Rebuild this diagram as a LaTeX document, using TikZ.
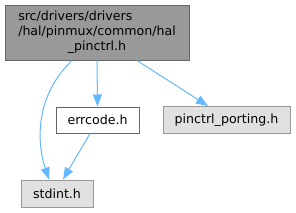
\documentclass[tikz,border=0pt]{standalone}
\usepackage{fontspec}
\setmainfont{DejaVu Sans}
\usetikzlibrary{arrows.meta}
\definecolor{edgeblue}{HTML}{63B8FF}
\definecolor{nodegray}{HTML}{999999}
\definecolor{nodelight}{HTML}{E0E0E0}
\definecolor{borderdark}{HTML}{666666}
\tikzset{
  filebox/.style={draw=borderdark, line width=1pt, inner sep=0pt, font=\fontsize{12.6}{15}\selectfont, text=black},
  mainbox/.style={filebox, fill=nodegray, minimum width=184pt, minimum height=55pt},
  docbox/.style={filebox, fill=white, minimum height=26pt},
  extbox/.style={filebox, draw=nodegray, fill=nodelight, minimum height=27pt},
  dep/.style={draw=edgeblue, line width=1pt, -{Triangle[length=12pt,width=9pt]}}
}
\begin{document}
\begin{tikzpicture}[x=1pt,y=-1pt]
\useasboundingbox (0,0) rectangle (296,212);
\node[mainbox] (main) at (97,32.5) {\begin{tabular}{@{}l@{}}src/drivers/drivers\\/hal/pinmux/common/hal\\\multicolumn{1}{@{}c@{}}{\_pinctrl.h}\end{tabular}};
\node[docbox, minimum width=83pt] (errcode) at (97.5,120) {errcode.h};
\node[extbox, minimum width=127pt] (porting) at (226.5,120) {pinctrl\_porting.h};
\node[extbox, minimum width=72pt] (stdint) at (57,193.5) {stdint.h};
\draw[dep] (main.south) -- (errcode.north);
\draw[dep] ([xshift=40pt]main.south) -- ([xshift=-18.5pt]porting.north);
\draw[dep] ([xshift=-25pt]main.south) .. controls (36,95) and (36,140) .. ([xshift=-8pt]stdint.north);
\draw[dep] ([xshift=-7.5pt]errcode.south) -- ([xshift=6pt]stdint.north);
\end{tikzpicture}
\end{document}
